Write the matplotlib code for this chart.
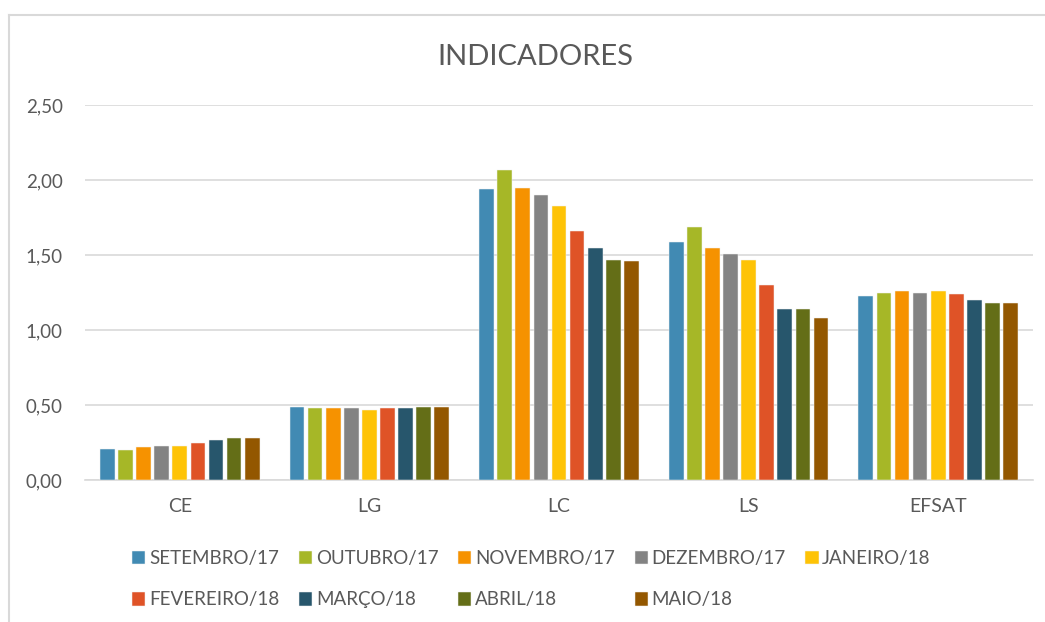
import matplotlib.pyplot as plt
import numpy as np
from matplotlib.ticker import FuncFormatter
from matplotlib.lines import Line2D

plt.rcParams['font.family'] = ['Lato', 'DejaVu Sans']

categories = ["CE", "LG", "LC", "LS", "EFSAT"]
months = ["SETEMBRO/17", "OUTUBRO/17", "NOVEMBRO/17", "DEZEMBRO/17", "JANEIRO/18",
          "FEVEREIRO/18", "MARÇO/18", "ABRIL/18", "MAIO/18"]
colors = ["#418AB3", "#A6B727", "#F69200", "#838383", "#FEC306",
          "#DF5327", "#27566C", "#646E17", "#935700"]

# one row per month, one value per indicator (CE, LG, LC, LS, EFSAT)
setembro = [0.21, 0.49, 1.94, 1.59, 1.23]
outubro = [0.20, 0.48, 2.07, 1.69, 1.25]
novembro = [0.22, 0.48, 1.95, 1.55, 1.26]
dezembro = [0.23, 0.48, 1.90, 1.51, 1.25]
janeiro = [0.23, 0.47, 1.83, 1.47, 1.26]
fevereiro = [0.25, 0.48, 1.66, 1.30, 1.24]
marco = [0.27, 0.48, 1.55, 1.14, 1.20]
abril = [0.28, 0.49, 1.47, 1.14, 1.18]
maio = [0.28, 0.49, 1.46, 1.08, 1.18]
series = [setembro, outubro, novembro, dezembro, janeiro, fevereiro, marco, abril, maio]

text_color = "#595959"
grid_color = "#D9D9D9"

fig = plt.figure(figsize=(10.45, 6.22), dpi=100)
ax = fig.add_axes([85 / 1045, 1 - 480 / 622, (1033 - 85) / 1045, 375 / 622])

x = np.arange(len(categories))
step = 0.0955
width = 0.0775
handles = []
for i, (name, vals) in enumerate(zip(months, series)):
    offset = (i - 4) * step
    b = ax.bar(x + offset, vals, width, color=colors[i], edgecolor="#F2F2F2",
               linewidth=0.35, label=name, zorder=3)
    handles.append(b)

ax.set_xlim(-0.5, 4.5)
ax.set_ylim(0, 2.5)
ax.set_yticks(np.arange(0, 2.51, 0.5))
ax.yaxis.set_major_formatter(FuncFormatter(lambda v, p: f"{v:.2f}".replace(".", ",")))
ax.set_xticks(x)
ax.set_xticklabels(categories)
ax.grid(axis="y", color=grid_color, linewidth=1.2, zorder=0)
for s in ["top", "right", "left"]:
    ax.spines[s].set_visible(False)
ax.spines["bottom"].set_color(grid_color)
ax.spines["bottom"].set_linewidth(1.2)
ax.tick_params(axis="both", length=0, colors=text_color, labelsize=13.5)
ax.tick_params(axis="y", pad=16)
ax.tick_params(axis="x", pad=13, labelsize=14)

fig.text(535 / 1045, 1 - 57 / 622, "INDICADORES", ha="center", va="center",
         fontsize=21, color=text_color)

# legend fills row by row like Excel
order = [0, 5, 1, 6, 2, 7, 3, 8, 4]
leg = fig.legend([handles[k] for k in order], [months[k] for k in order],
                 ncols=5, loc="upper left", bbox_to_anchor=(119 / 1045, 1 - 537 / 622),
                 frameon=False, fontsize=13.5, handlelength=0.7, handleheight=0.7,
                 handletextpad=0.2, columnspacing=1.05, labelspacing=1.3,
                 borderpad=0.2)
for t in leg.get_texts():
    t.set_color(text_color)

# outer chart border (only top and left visible in the crop)
fig.add_artist(Line2D([9 / 1045, 9 / 1045], [0, 1 - 15 / 622], color=grid_color,
                      linewidth=1.5, transform=fig.transFigure))
fig.add_artist(Line2D([9 / 1045, 1], [1 - 15 / 622, 1 - 15 / 622], color=grid_color,
                      linewidth=1.5, transform=fig.transFigure))

fig.savefig("out.png", dpi=100)
